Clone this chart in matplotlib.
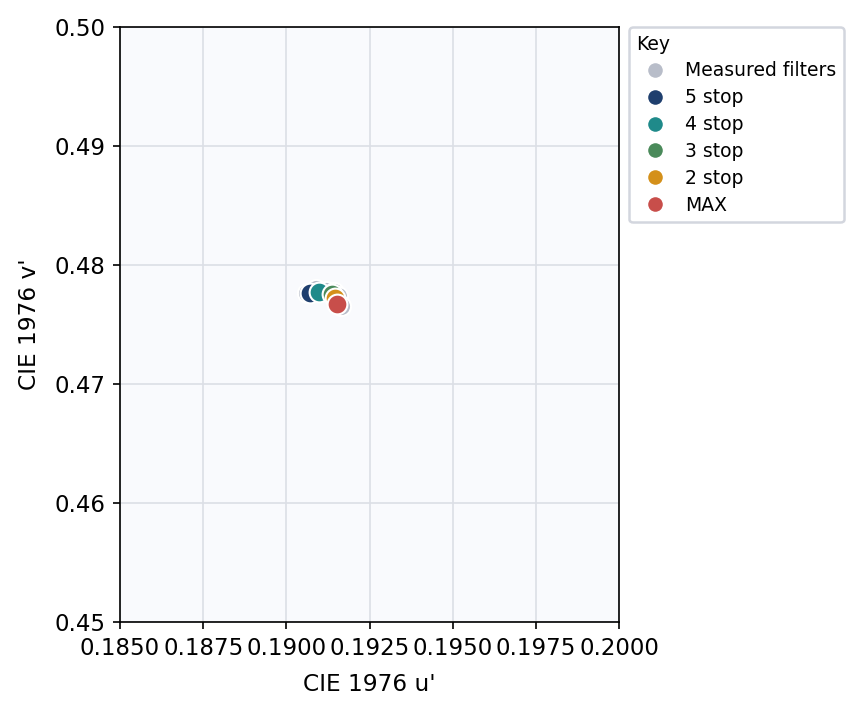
import matplotlib
matplotlib.use("Agg")
import matplotlib.pyplot as plt
from matplotlib.lines import Line2D

# Data
measured_u = [0.19062, 0.19090, 0.19118, 0.19142, 0.19155, 0.19160, 0.19165]
measured_v = [0.47765, 0.47795, 0.47782, 0.47775, 0.47740, 0.47665, 0.47655]
labels = ["5 stop", "4 stop", "3 stop", "2 stop", "MAX"]
sel_u = [0.19071, 0.19098, 0.19137, 0.19146, 0.19152]
sel_v = [0.47765, 0.47773, 0.47756, 0.47723, 0.47672]
colors = ["#1f3f6e", "#1f8a8a", "#4a8a5a", "#d4901a", "#c84e4a"]
gray = "#b8bdc9"

xticks = [0.185, 0.1875, 0.19, 0.1925, 0.195, 0.1975, 0.2]
yticks = [0.45, 0.46, 0.47, 0.48, 0.49, 0.50]

fig = plt.figure(figsize=(863/150, 714/150), dpi=150)
ax = fig.add_axes([120/863, 1-622/714, (619-120)/863, (622-27)/714])
ax.set_facecolor("#f9fafd")
ax.grid(True, color="#dcdfe6", linewidth=0.8)
ax.set_axisbelow(True)

ax.scatter(measured_u, measured_v, s=85, color=gray, edgecolor="white", linewidth=1, zorder=3)
for u, v, c in zip(sel_u, sel_v, colors):
    ax.scatter([u], [v], s=90, color=c, edgecolor="white", linewidth=1, zorder=4)

ax.set_xlim(0.185, 0.2)
ax.set_ylim(0.45, 0.50)
ax.set_xticks(xticks)
ax.set_xticklabels([f"{t:.4f}" for t in xticks])
ax.set_yticks(yticks)
ax.set_yticklabels([f"{t:.2f}" for t in yticks])
ax.tick_params(labelsize=11)
ax.set_xlabel("CIE 1976 u'", fontsize=11.2, labelpad=6.5)
ax.set_ylabel("CIE 1976 v'", fontsize=11.2, labelpad=6.5)

handles = [Line2D([], [], marker="o", linestyle="", markersize=8, markerfacecolor=gray,
                  markeredgecolor="white", label="Measured filters")]
for lab, c in zip(labels, colors):
    handles.append(Line2D([], [], marker="o", linestyle="", markersize=8, markerfacecolor=c,
                          markeredgecolor="white", label=lab))
leg = ax.legend(handles=handles, title="Key", loc="upper left", bbox_to_anchor=(1.02, 1.0),
                fontsize=9, title_fontsize=9, frameon=True, borderaxespad=0,
                labelspacing=0.42, handletextpad=0.6)
leg._legend_box.align = "left"
leg.get_frame().set_edgecolor("#c8ccd6")
leg.get_frame().set_linewidth(1.2)

fig.savefig("out.png", dpi=150)
